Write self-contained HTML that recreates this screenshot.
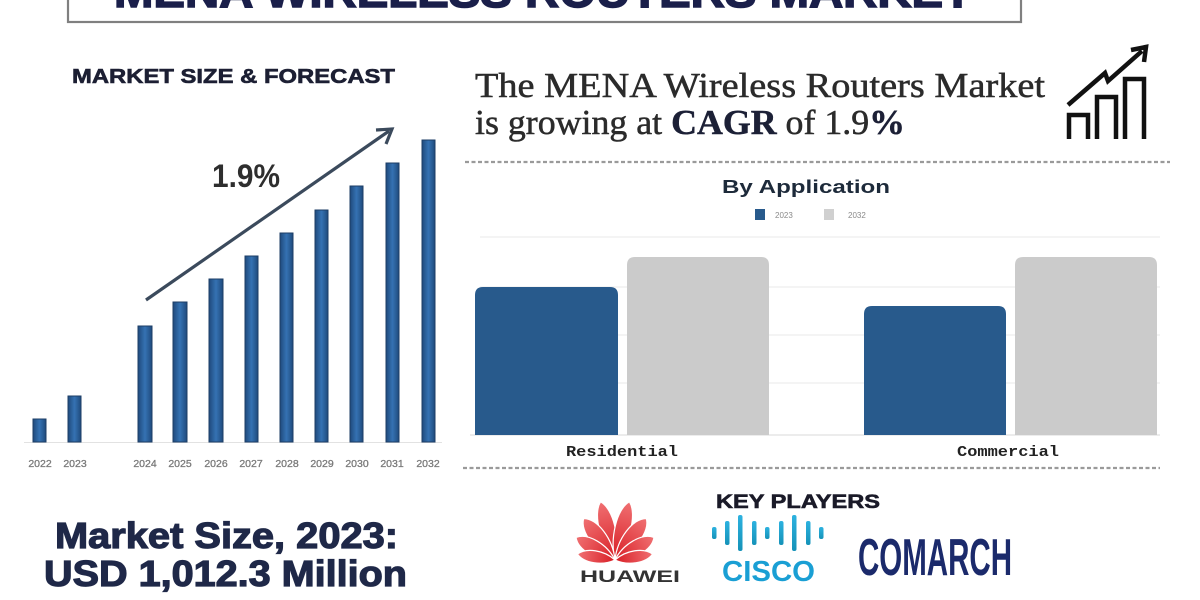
<!DOCTYPE html>
<html><head><meta charset="utf-8"><style>
html,body{margin:0;padding:0;background:#fff;}
svg{display:block;}
</style></head><body>
<svg width="1200" height="600" viewBox="0 0 1200 600" xmlns="http://www.w3.org/2000/svg">
<defs>
<linearGradient id="lb" x1="0" x2="1" y1="0" y2="0">
<stop offset="0" stop-color="#1f4a7c"/><stop offset="0.5" stop-color="#3572b3"/><stop offset="1" stop-color="#1f4a7c"/>
</linearGradient>
<linearGradient id="cg" x1="0" x2="0" y1="0" y2="1">
<stop offset="0" stop-color="#2db2e0"/><stop offset="1" stop-color="#1592b8"/>
</linearGradient>
<linearGradient id="hw" x1="0" x2="0" y1="0" y2="1">
<stop offset="0" stop-color="#f07072"/><stop offset="1" stop-color="#d81e25"/>
</linearGradient>
</defs>
<rect width="1200" height="600" fill="#fff"/>

<!-- Title box -->
<rect x="68" y="-6" width="953" height="28" fill="#fff" stroke="#808080" stroke-width="2.2"/>
<text x="114" y="7" font-family="Liberation Sans, sans-serif" font-weight="bold" font-size="44" fill="#1a1f4a" stroke="#1a1f4a" stroke-width="1.5" textLength="858" lengthAdjust="spacingAndGlyphs">MENA WIRELESS ROUTERS MARKET</text>

<!-- Left chart title -->
<text x="72" y="83" font-family="Liberation Sans, sans-serif" font-weight="bold" font-size="20" fill="#1c1f33" stroke="#1c1f33" stroke-width="0.6" textLength="323" lengthAdjust="spacingAndGlyphs">MARKET SIZE &amp; FORECAST</text>

<!-- Left baseline -->
<line x1="24" y1="442.5" x2="442" y2="442.5" stroke="#e2e2e2" stroke-width="1"/>

<!-- Left bars -->
<g fill="url(#lb)" stroke="#1d3e66" stroke-width="1">
<rect x="33" y="419" width="13" height="23"/>
<rect x="68" y="396" width="13" height="46"/>
<rect x="138" y="326" width="14" height="116"/>
<rect x="173" y="302" width="14" height="140"/>
<rect x="209" y="279" width="14" height="163"/>
<rect x="245" y="256" width="13" height="186"/>
<rect x="280" y="233" width="13" height="209"/>
<rect x="315" y="210" width="13" height="232"/>
<rect x="350" y="186" width="13" height="256"/>
<rect x="386" y="163" width="13" height="279"/>
<rect x="422" y="140" width="13" height="302"/>
</g>

<!-- Year labels -->
<g font-family="Liberation Sans, sans-serif" font-size="10.5" fill="#7a7a7a" stroke="#7a7a7a" stroke-width="0.3" text-anchor="middle">
<text x="40" y="467">2022</text>
<text x="75" y="467">2023</text>
<text x="145" y="467">2024</text>
<text x="180" y="467">2025</text>
<text x="216" y="467">2026</text>
<text x="251" y="467">2027</text>
<text x="287" y="467">2028</text>
<text x="322" y="467">2029</text>
<text x="357" y="467">2030</text>
<text x="392" y="467">2031</text>
<text x="428" y="467">2032</text>
</g>

<!-- Arrow -->
<line x1="146" y1="300" x2="389" y2="131" stroke="#3b4a5c" stroke-width="3.2"/>
<polyline points="376,130 392,129 386,144" fill="none" stroke="#3b4a5c" stroke-width="3.2" stroke-linejoin="miter"/>

<text x="212" y="187" font-family="Liberation Sans, sans-serif" font-weight="bold" font-size="32" fill="#2e2e2e" textLength="68" lengthAdjust="spacingAndGlyphs">1.9%</text>

<!-- Right heading -->
<text x="475" y="97" font-family="Liberation Serif, serif" font-size="35" fill="#2b2b2b" stroke="#2b2b2b" stroke-width="0.5" textLength="570" lengthAdjust="spacingAndGlyphs">The MENA Wireless Routers Market</text>
<text x="475" y="134" font-family="Liberation Serif, serif" font-size="35" fill="#2b2b2b" stroke="#2b2b2b" stroke-width="0.5" textLength="430" lengthAdjust="spacingAndGlyphs">is growing at <tspan font-weight="bold" fill="#1c2036" stroke="#1c2036">CAGR</tspan> of 1.9<tspan font-weight="bold" fill="#1c2036" stroke="#1c2036">%</tspan></text>

<!-- Icon -->
<g fill="none" stroke="#111" stroke-width="4.5" stroke-linejoin="miter">
<polyline points="1069,139 1069,115 1088,115 1088,139"/>
<polyline points="1097,139 1097,97 1116,97 1116,139"/>
<polyline points="1125,139 1125,79 1144,79 1144,139"/>
<polyline points="1068,105 1105,73 1108,81 1142,51"/>
<polyline points="1131,50 1146,47 1144,62"/>
</g>

<!-- Dashed separators -->
<line x1="465" y1="162" x2="1170" y2="162" stroke="#9a9a9a" stroke-width="2.2" stroke-dasharray="4,2.5"/>
<line x1="463" y1="468" x2="1160" y2="468" stroke="#9a9a9a" stroke-width="2.2" stroke-dasharray="4,2.5"/>

<!-- By Application -->
<text x="806" y="193" text-anchor="middle" font-family="Liberation Sans, sans-serif" font-weight="bold" font-size="18.5" fill="#1d2a3a" textLength="168" lengthAdjust="spacingAndGlyphs">By Application</text>
<rect x="755" y="209" width="10" height="11" fill="#285a8c"/>
<text x="775" y="218" font-family="Liberation Sans, sans-serif" font-size="8" fill="#8a8a8a">2023</text>
<rect x="824" y="209" width="10" height="11" fill="#d0d0d0"/>
<text x="848" y="218" font-family="Liberation Sans, sans-serif" font-size="8" fill="#8a8a8a">2032</text>

<!-- Right chart grid -->
<g stroke="#f0f0f0" stroke-width="1.5">
<line x1="480" y1="237" x2="1160" y2="237"/>
<line x1="480" y1="287" x2="1160" y2="287"/>
<line x1="480" y1="335" x2="1160" y2="335"/>
<line x1="480" y1="383" x2="1160" y2="383"/>
</g>
<line x1="470" y1="435" x2="1160" y2="435" stroke="#e6e6e6" stroke-width="1.5"/>

<!-- Right bars -->
<path d="M475,435 V295 Q475,287 483,287 H610 Q618,287 618,295 V435 Z" fill="#285a8c"/>
<path d="M627,435 V265 Q627,257 635,257 H761 Q769,257 769,265 V435 Z" fill="#cbcbcb"/>
<path d="M864,435 V314 Q864,306 872,306 H998 Q1006,306 1006,314 V435 Z" fill="#285a8c"/>
<path d="M1015,435 V265 Q1015,257 1023,257 H1149 Q1157,257 1157,265 V435 Z" fill="#cbcbcb"/>

<g font-family="Liberation Mono, monospace" font-weight="bold" font-size="15" fill="#222">
<text x="566" y="456" textLength="112" lengthAdjust="spacingAndGlyphs">Residential</text>
<text x="957" y="456" textLength="102" lengthAdjust="spacingAndGlyphs">Commercial</text>
</g>

<!-- Bottom left market size -->
<g font-family="Liberation Sans, sans-serif" font-weight="bold" font-size="36" fill="#1f2848" stroke="#1f2848" stroke-width="1.2">
<text x="55" y="548" textLength="343" lengthAdjust="spacingAndGlyphs">Market Size, 2023:</text>
<text x="44" y="586" textLength="363" lengthAdjust="spacingAndGlyphs">USD 1,012.3 Million</text>
</g>

<!-- Huawei -->
<g fill="url(#hw)" stroke="#fff" stroke-width="1.2" transform="translate(615,560)">
<path d="M0,0 C-11,-20 -11,-50 -1,-60 C10,-50 10,-20 0,0Z" transform="rotate(-13)"/>
<path d="M0,0 C-10,-20 -10,-50 1,-60 C11,-50 11,-20 0,0Z" transform="rotate(13)"/>
<path d="M0,0 C-11,-18 -11,-44 0,-52 C11,-44 11,-18 0,0Z" transform="rotate(-37)"/>
<path d="M0,0 C-11,-18 -11,-44 0,-52 C11,-44 11,-18 0,0Z" transform="rotate(37)"/>
<path d="M0,0 C-10,-15 -10,-37 0,-45 C10,-37 10,-15 0,0Z" transform="rotate(-60)"/>
<path d="M0,0 C-10,-15 -10,-37 0,-45 C10,-37 10,-15 0,0Z" transform="rotate(60)"/>
<path d="M0,0 C-8,-12 -8,-30 0,-38 C8,-30 8,-12 0,0Z" transform="rotate(-81)"/>
<path d="M0,0 C-8,-12 -8,-30 0,-38 C8,-30 8,-12 0,0Z" transform="rotate(81)"/>
</g>
<text x="580" y="582" font-family="Liberation Sans, sans-serif" font-weight="bold" font-size="17" fill="#333" textLength="100" lengthAdjust="spacingAndGlyphs">HUAWEI</text>

<!-- Key players -->
<text x="716" y="508" font-family="Liberation Sans, sans-serif" font-weight="bold" font-size="19" fill="#1a1a28" stroke="#1a1a28" stroke-width="0.6" textLength="164" lengthAdjust="spacingAndGlyphs">KEY PLAYERS</text>

<!-- Cisco -->
<g fill="url(#cg)">
<rect x="712" y="527" width="4.5" height="12" rx="2"/>
<rect x="725" y="521" width="4.5" height="24" rx="2"/>
<rect x="738" y="515" width="4.5" height="36" rx="2"/>
<rect x="752" y="521" width="4.5" height="24" rx="2"/>
<rect x="765" y="527" width="4.5" height="12" rx="2"/>
<rect x="779" y="521" width="4.5" height="24" rx="2"/>
<rect x="792" y="515" width="4.5" height="36" rx="2"/>
<rect x="806" y="521" width="4.5" height="24" rx="2"/>
<rect x="819" y="527" width="4.5" height="12" rx="2"/>
</g>
<text x="722" y="581" font-family="Liberation Sans, sans-serif" font-weight="bold" font-size="29" fill="#1a9fd4" textLength="93" lengthAdjust="spacingAndGlyphs">CISCO</text>

<!-- Comarch -->
<text x="858" y="575" font-family="Liberation Sans, sans-serif" font-weight="bold" font-size="52" fill="#1b2a6b" textLength="154" lengthAdjust="spacingAndGlyphs">COMARCH</text>
</svg>
</body></html>
